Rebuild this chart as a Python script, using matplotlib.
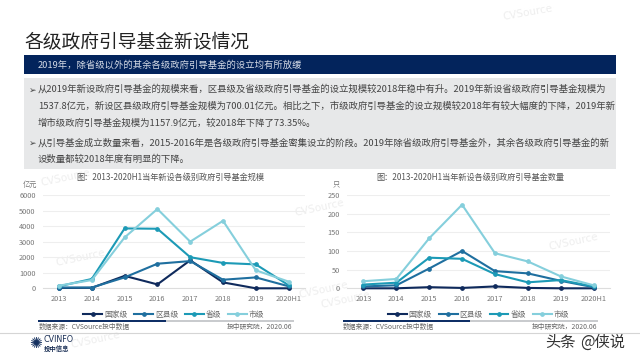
import matplotlib
matplotlib.use("Agg")
import matplotlib.pyplot as plt
from matplotlib.patches import Rectangle

plt.rcParams['font.family'] = ['Noto Sans CJK SC', 'DejaVu Sans']

years = ['2013', '2014', '2015', '2016', '2017', '2018', '2019', '2020H1']
series_names = ['国家级', '区县级', '省级', '市级']
scale_guojia = [20, 30, 800, 250, 1800, 380, 0, 0]
scale_quxian = [50, 50, 700, 1580, 1750, 550, 700, 130]
scale_sheng = [130, 600, 3850, 3830, 2000, 1630, 1538, 200]
scale_shi = [170, 530, 3270, 5100, 3000, 4340, 1158, 430]
count_guojia = [0, 0, 3, 1, 5, 1, 0, 0]
count_quxian = [5, 8, 53, 100, 46, 40, 20, 3]
count_sheng = [10, 15, 82, 79, 38, 16, 22, 5]
count_shi = [19, 25, 134, 224, 94, 72, 32, 8]
colors = ['#0f2a5c', '#1f6f9f', '#1c9ab6', '#85cfdc']

W, H = 640, 360
fig = plt.figure(figsize=(6.4, 3.6), dpi=100, facecolor='white')
bg = fig.add_axes([0, 0, 1, 1])
bg.set_xlim(0, W); bg.set_ylim(H, 0); bg.axis('off')

# watermarks
for (x, y, r) in [(40, 178, 12), (55, 258, 12), (70, 340, 12), (262, 64, 12),
                  (502, 13, 10), (294, 208, 12), (298, 290, 12), (548, 242, 12), (320, 300, 12)]:
    bg.text(x, y, 'CVSource', fontsize=7.5, color='#eeeeee', rotation=r, ha='left', va='center',
            family=['DejaVu Sans'], zorder=0)

bg.text(24, 42, '各级政府引导基金新设情况', fontsize=13.5, color='#222222', va='center', ha='left')
bg.add_patch(Rectangle((24, 55), 592, 19, color='#03245c', lw=0))
bg.text(38, 64.5, '2019年，除省级以外的其余各级政府引导基金的设立均有所放缓', fontsize=6.72, color='#d5dbe6', va='center')
bg.add_patch(Rectangle((24, 78), 592, 91, color='#e7e8e9', lw=0))

body = [
    (89, '从2019年新设政府引导基金的规模来看，区县级及省级政府引导基金的设立规模较2018年稳中有升。2019年新设省级政府引导基金规模为'),
    (106, '1537.8亿元，新设区县级政府引导基金规模为700.01亿元。相比之下，市级政府引导基金的设立规模较2018年有较大幅度的下降，2019年新'),
    (123, '增市级政府引导基金规模为1157.9亿元，较2018年下降了73.35%。'),
    (143, '从引导基金成立数量来看，2015-2016年是各级政府引导基金密集设立的阶段。2019年除省级政府引导基金外，其余各级政府引导基金的新'),
    (159, '设数量都较2018年度有明显的下降。'),
]
for y, t in body:
    bg.text(38, y, t, fontsize=6.78, color='#444444', va='center')
for y in (90, 143):
    bg.text(29, y, '➢', fontsize=6.5, color='#444444', va='center', ha='left', family=['DejaVu Sans'])

def chart(x0, x1, data, ymax, step, unit, title, title_x, ux, bar0, barm, bar1, fl, fr):
    y_top, y_bot = 195, 288.3
    ax = fig.add_axes([x0 / W, 1 - y_bot / H, (x1 - x0) / W, (y_bot - y_top) / H])
    ax.patch.set_alpha(0)
    for i in [3, 2, 1, 0]:
        ax.plot(range(8), data[i], color=colors[i], lw=1.5, marker='o', ms=2.4, clip_on=False,
                zorder=3 + i * 0.1, label=series_names[i])
    ax.set_xlim(-0.5, 7.5); ax.set_ylim(0, ymax)
    ax.set_yticks(range(0, ymax + 1, step))
    ax.set_xticks(range(8)); ax.set_xticklabels(years)
    ax.tick_params(length=0, labelsize=5.3, labelcolor='#777777', pad=5)
    ax.grid(axis='y', color='#eeeeee', lw=0.8); ax.set_axisbelow(True)
    for s in ['top', 'right', 'left']:
        ax.spines[s].set_visible(False)
    ax.spines['bottom'].set_color('#dddddd'); ax.spines['bottom'].set_linewidth(0.8)
    h, l = ax.get_legend_handles_labels()
    ax.legend(h[::-1], l[::-1], ncol=4, frameon=False, loc='center',
              bbox_to_anchor=(0.5, -0.286), fontsize=5.6, labelcolor='#666666',
              handlelength=2.4, columnspacing=0.9, handletextpad=0.25, borderpad=0)
    bg.text(ux, 185, unit, fontsize=5.2, color='#777777', ha='center', va='center')
    bg.text(title_x, 177, title, fontsize=5.9, color='#555555', ha='center', va='center')
    bg.add_patch(Rectangle((bar0, 320), barm - bar0, 1.6, color='#0f2f66', lw=0))
    bg.add_patch(Rectangle((barm, 320), bar1 - barm, 1.6, color='#c9cbce', lw=0))
    bg.text(fl, 326.5, '数据来源：CVSource投中数据', fontsize=4.9, color='#666666', va='center')
    bg.text(fr, 326.5, '投中研究院，2020.06', fontsize=4.9, color='#666666', va='center', ha='right')

chart(42.6, 305, [scale_guojia, scale_quxian, scale_sheng, scale_shi], 6000, 1000, '亿元',
      '图：2013-2020H1当年新设各级别政府引导基金规模', 170, 30, 38, 166, 294, 39, 292)
chart(347, 610, [count_guojia, count_quxian, count_sheng, count_shi], 250, 50, '只',
      '图：2013-2020H1当年新设各级别政府引导基金数量', 470, 336, 343, 470, 598, 343, 597)

bg.plot([0, 640], [332.5, 332.5], color='#d5d5d5', lw=0.8)
bg.text(44, 340, 'CVINFO', fontsize=5.8, color='#1a2f55', va='center', family=['DejaVu Sans'])
bg.text(44, 348, '投中信息', fontsize=4.6, color='#1a2f55', va='center', weight='bold')
bg.text(36, 344, '✺', fontsize=11, color='#14305f', va='center', ha='center', family=['DejaVu Sans'])
bg.text(545, 342, '头条', fontsize=11, color='#333333', va='center', ha='left')
bg.text(580, 342, '@侠说', fontsize=11, color='#333333', va='center', ha='left')

fig.savefig('out.png', dpi=100)
